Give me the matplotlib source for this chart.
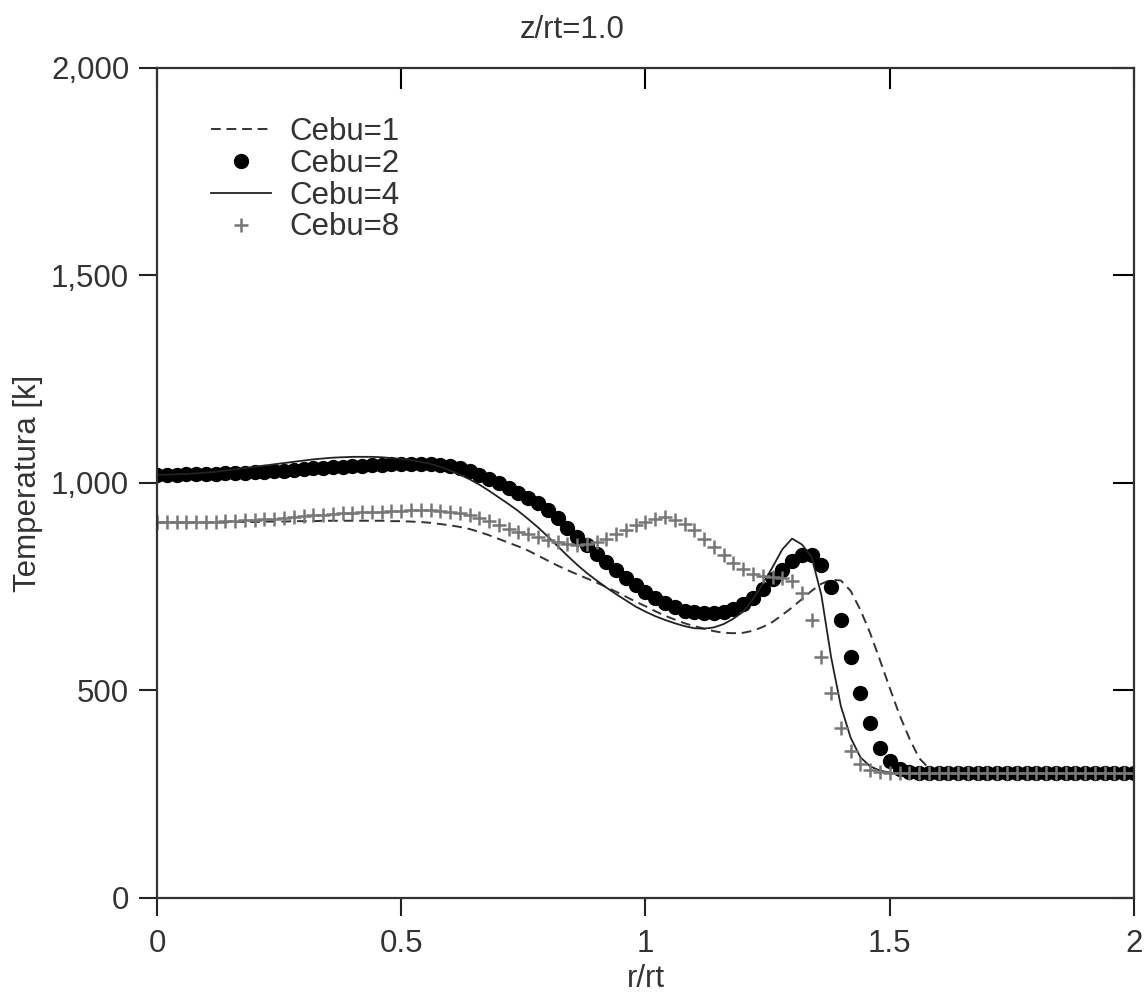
import matplotlib.pyplot as plt
from matplotlib.ticker import FuncFormatter

# r/rt sampled every 0.02
r = [round(i * 0.02, 2) for i in range(101)]

cebu1 = [905, 905, 905, 905, 905, 905, 905, 905, 906, 906,
         906, 907, 907, 907, 908, 908, 908, 909, 909, 909,
         909, 909, 909, 909, 908, 908, 907, 906, 904, 901,
         898, 894, 889, 882, 874, 865, 856, 847, 837, 825,
         813, 801, 790, 780, 770, 760, 749, 738, 726, 714,
         703, 691, 680, 671, 662, 655, 649, 643, 639, 638,
         639, 644, 653, 665, 682, 700, 720, 740, 757, 767,
         765, 740, 694, 638, 573, 506, 441, 385, 337, 313,
         303, 300, 300, 300, 300, 300, 300, 300, 300, 300,
         300, 300, 300, 300, 300, 300, 300, 300, 300, 300,
         300]

cebu2 = [1020, 1020, 1020, 1021, 1021, 1022, 1022, 1023, 1024, 1025,
         1026, 1027, 1029, 1030, 1032, 1033, 1035, 1036, 1038, 1039,
         1040, 1041, 1043, 1044, 1045, 1046, 1046, 1046, 1046, 1044,
         1041, 1036, 1029, 1020, 1010, 1000, 989, 977, 965, 952,
         935, 915, 892, 870, 850, 830, 810, 790, 771, 754,
         738, 724, 711, 700, 692, 688, 686, 687, 690, 697,
         708, 724, 745, 768, 790, 811, 826, 827, 803, 750,
         670, 581, 495, 422, 362, 330, 312, 304, 301, 300,
         300, 300, 300, 300, 300, 300, 300, 300, 300, 300,
         300, 300, 300, 300, 300, 300, 300, 300, 300, 300,
         300]

cebu4 = [1020, 1020, 1021, 1022, 1023, 1025, 1027, 1030, 1033, 1036,
         1039, 1042, 1045, 1048, 1051, 1054, 1057, 1059, 1061, 1062,
         1063, 1063, 1063, 1062, 1060, 1058, 1055, 1051, 1046, 1039,
         1030, 1020, 1009, 996, 981, 965, 949, 932, 913, 893,
         871, 848, 825, 803, 783, 765, 748, 732, 717, 702,
         690, 679, 670, 662, 655, 650, 649, 652, 660, 673,
         690, 720, 757, 797, 840, 866, 852, 822, 730, 580,
         462, 386, 339, 317, 307, 302, 300, 300, 300, 300,
         300, 300, 300, 300, 300, 300, 300, 300, 300, 300,
         300, 300, 300, 300, 300, 300, 300, 300, 300, 300,
         300]

cebu8 = [905, 905, 905, 905, 906, 906, 907, 908, 909, 910,
         911, 913, 914, 916, 918, 920, 922, 923, 925, 927,
         928, 929, 930, 931, 932, 933, 934, 934, 934, 933,
         931, 928, 922, 916, 908, 899, 890, 882, 876, 870,
         863, 857, 852, 850, 852, 857, 866, 876, 887, 898,
         907, 914, 918, 912, 902, 886, 866, 846, 826, 808,
         792, 781, 776, 774, 772, 765, 735, 670, 581, 494,
         410, 355, 323, 308, 303, 301, 300, 300, 300, 300,
         300, 300, 300, 300, 300, 300, 300, 300, 300, 300,
         300, 300, 300, 300, 300, 300, 300, 300, 300, 300,
         300]

plt.rcParams['font.family'] = ['Liberation Sans', 'DejaVu Sans']
plt.rcParams['font.size'] = 22.5

fig = plt.figure(figsize=(11.45, 9.94), dpi=100)
ax = fig.add_axes([0.1371, 0.0966, 0.8533, 0.835])

ax.plot(r, cebu1, linestyle=(0, (5, 3)), color='#333333', linewidth=1.4, label='Cebu=1')
ax.plot(r, cebu2, linestyle='none', marker='o', markersize=10, color='black', label='Cebu=2')
ax.plot(r, cebu4, linestyle='-', color='#222222', linewidth=1.3, label='Cebu=4')
ax.plot(r, cebu8, linestyle='none', marker='+', markersize=10, markeredgewidth=1.8,
        color='#777777', label='Cebu=8')

ax.set_xlim(0, 2)
ax.set_ylim(0, 2000)
ax.set_xticks([0, 0.5, 1, 1.5, 2])
ax.set_yticks([0, 500, 1000, 1500, 2000])
ax.xaxis.set_major_formatter(FuncFormatter(lambda v, p: '%g' % v))
ax.yaxis.set_major_formatter(FuncFormatter(lambda v, p: '{:,.0f}'.format(v)))

ax.tick_params(axis='both', which='major', direction='out', length=13, width=1.5,
               color='#222222', labelcolor='#333333')
ax.tick_params(axis='x', pad=9)
ax.tick_params(axis='y', pad=7)
# inward ticks on top and right
ax2 = ax.secondary_xaxis('top')
ax2.set_xticks([0, 0.5, 1, 1.5, 2])
ax2.tick_params(direction='in', length=15, width=1.5, labeltop=False)
ax3 = ax.secondary_yaxis('right')
ax3.set_yticks([0, 500, 1000, 1500, 2000])
ax3.tick_params(direction='in', length=15, width=1.5, labelright=False)

for s in ax.spines.values():
    s.set_linewidth(1.6)
    s.set_color('#333333')
ax2.spines['top'].set_visible(False)
ax3.spines['right'].set_visible(False)

ax.set_xlabel('r/rt', color='#333333', labelpad=4)
ax.set_ylabel('Temperatura [k]', color='#333333', labelpad=6)
fig.text(0.5, 0.97, 'z/rt=1.0', ha='center', va='center', color='#333333')

ax.legend(loc='upper left', bbox_to_anchor=(0.027, 0.975), frameon=False,
          handlelength=1.9, labelspacing=0.06, handletextpad=0.6, labelcolor='#333333')

fig.savefig('out.png', dpi=100)
